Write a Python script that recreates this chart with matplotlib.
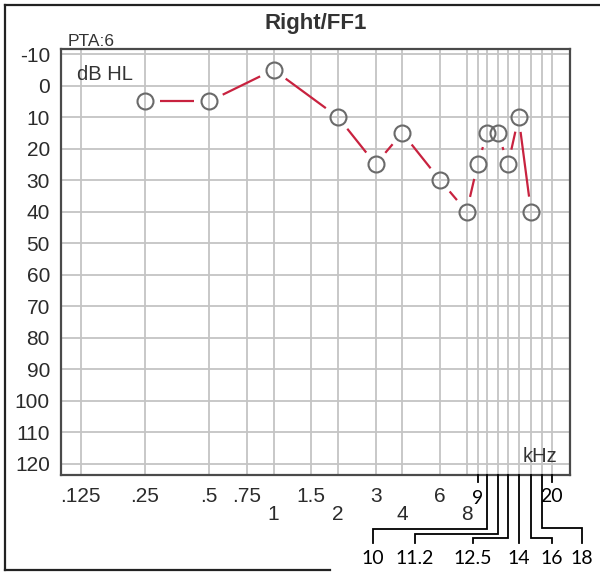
import numpy as np
import matplotlib
matplotlib.use("Agg")
import matplotlib.pyplot as plt
from matplotlib.lines import Line2D
from matplotlib.transforms import IdentityTransform

# Measured thresholds (right ear, free field)
freq_khz = [0.25, 0.5, 1, 2, 3, 4, 6, 8, 9, 10, 11.2, 12.5, 14, 16]
threshold_db = [5, 5, -5, 10, 25, 15, 30, 40, 25, 15, 15, 25, 10, 40]

# Grid / label definitions
grid_freqs = [0.125, 0.25, 0.5, 0.75, 1, 1.5, 2, 3, 4, 6, 8, 9, 10, 11.2, 12.5, 14, 16, 18, 20]
upper_freqs = [0.125, 0.25, 0.5, 0.75, 1.5, 3, 6]
upper_labels = [".125", ".25", ".5", ".75", "1.5", "3", "6"]
lower_freqs = [1, 2, 4, 8]
lower_labels = ["1", "2", "4", "8"]
extra_freqs = [9, 20]
extra_labels = ["9", "20"]
leader_freqs = [10, 11.2, 12.5, 14, 16, 18]
leader_labels = ["10", "11.2", "12.5", "14", "16", "18"]
db_ticks = list(range(-10, 121, 10))

W, H = 600, 572
fig = plt.figure(figsize=(W / 100, H / 100), dpi=100)
fig.patch.set_facecolor("white")

# axes placed in pixel terms
L, R, T, B = 61, 570, 49, 475
ax = fig.add_axes([L / W, (H - B) / H, (R - L) / W, (B - T) / H])
ax.set_xscale("log")
ax.set_xlim(0.1013, 24.35)
ax.set_ylim(123.65, -11.6)
ax.set_xticks([])
ax.set_xticks([], minor=True)
ax.set_yticks(db_ticks)
ax.set_yticklabels([str(v) for v in db_ticks], fontsize=15,
                   fontfamily="Liberation Sans", color="#2b2b2b")
ax.tick_params(axis="y", length=0, pad=8)
for s in ax.spines.values():
    s.set_color("#4a4a4a")
    s.set_linewidth(1.6)

grid_color = "#c4c4c4"
for f in grid_freqs:
    ax.axvline(f, color=grid_color, lw=1.3, zorder=1)
for d in db_ticks:
    ax.axhline(d, color=grid_color, lw=1.3, zorder=1)

# connecting line segments, stopped short of each symbol
disp = ax.transData.transform(np.column_stack([freq_khz, threshold_db]))
gap = 15.0
inv = ax.transData.inverted()
for p1, p2 in zip(disp[:-1], disp[1:]):
    d = p2 - p1
    n = np.hypot(*d)
    if n <= 2 * gap:
        continue
    u = d / n
    a, b = inv.transform([p1 + u * gap, p2 - u * gap])
    ax.plot([a[0], b[0]], [a[1], b[1]], color="#c8223f", lw=1.6,
            solid_capstyle="butt", zorder=3)

ax.plot(freq_khz, threshold_db, linestyle="none", marker="o", markersize=11.5,
        markerfacecolor="none", markeredgecolor="#6a6a6a", markeredgewidth=1.5,
        zorder=4)


def py(y_img):
    return H - y_img


# text inside the chart
fig.text(77 / W, 1 - 75 / H, "dB HL", fontsize=14.5,
         fontfamily="Liberation Sans", color="#333333", ha="left", va="center")
fig.text(68 / W, 1 - 41 / H, "PTA:6", fontsize=12.5, fontfamily="Liberation Sans",
         color="#333333", ha="left", va="center")
fig.text(557 / W, 1 - 456 / H, "kHz", fontsize=14.5, fontfamily="Liberation Sans",
         color="#333333", ha="right", va="center")
fig.text(316 / W, 1 - 24 / H, "Right/FF1", fontsize=16, fontweight="bold",
         fontfamily="Liberation Sans", color="#333333", ha="center", va="center")

# frequency labels below the axes
xt = ax.get_xaxis_transform()
for f, lab in zip(upper_freqs, upper_labels):
    ax.annotate(lab, xy=(f, 0), xycoords=xt, xytext=(0, -21 * 0.72),
                textcoords="offset points", ha="center", va="center",
                fontsize=15, fontfamily="Liberation Sans", color="#2b2b2b",
                annotation_clip=False)
for f, lab in zip(lower_freqs, lower_labels):
    ax.annotate(lab, xy=(f, 0), xycoords=xt, xytext=(0, -39 * 0.72),
                textcoords="offset points", ha="center", va="center",
                fontsize=15, fontfamily="Liberation Sans", color="#2b2b2b",
                annotation_clip=False)


# small ticks with the added high-frequency labels
def fx(f):
    return ax.transData.transform((f, 0))[0]


ident = IdentityTransform()
for f in extra_freqs:
    x = fx(f)
    fig.add_artist(Line2D([x, x], [py(B), py(482)], color="black", lw=1.3,
                          transform=ident))
for f, lab, off in zip(extra_freqs, extra_labels, [-23, -21]):
    ax.annotate(lab, xy=(f, 0), xycoords=xt, xytext=(0, off * 0.72),
                textcoords="offset points", ha="center", va="center",
                fontsize=14, fontfamily="Lato", color="black",
                annotation_clip=False)

# leader lines to the lower label row
label_x = [373, 415, 473, 517, 552, 582]
elbow_y = [529, 534, 538, None, 538, 528]
end_y = 543
for f, lab, lx, ey in zip(leader_freqs, leader_labels, label_x, elbow_y):
    x = fx(f)
    if ey is None:
        xs, ys = [x, x], [py(B), py(end_y)]
        lx = x
    else:
        xs = [x, x, lx, lx]
        ys = [py(B), py(ey), py(ey), py(end_y)]
    fig.add_artist(Line2D(xs, ys, color="black", lw=1.3, transform=ident,
                          solid_joinstyle="miter"))
    fig.text(lx / W, 1 - 558 / H, lab, fontsize=14, fontfamily="Lato",
             color="black", ha="center", va="center")

# outer frame of the printout
fig.add_artist(Line2D([5, 600], [py(5), py(5)], color="#222222", lw=1.6, transform=ident))
fig.add_artist(Line2D([5, 5], [py(5), py(570)], color="#222222", lw=1.6, transform=ident))
fig.add_artist(Line2D([5, 330], [py(570), py(570)], color="#222222", lw=1.6, transform=ident))

fig.savefig("out.png", dpi=100)
